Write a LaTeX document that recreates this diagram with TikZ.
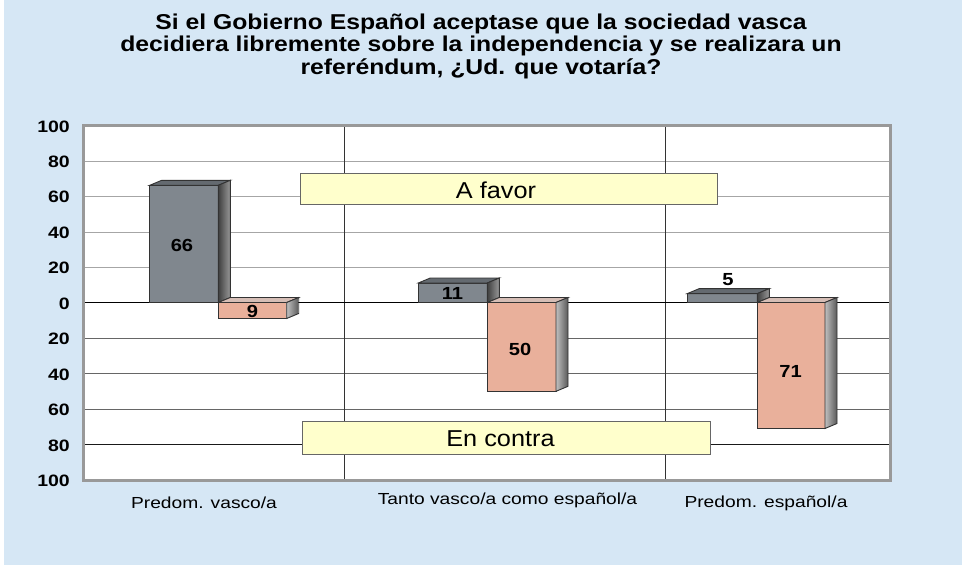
\documentclass[tikz,border=0pt]{standalone}
\usepackage{fontspec}
\setmainfont{Liberation Sans}
\definecolor{bgblue}{RGB}{214,231,245}
\definecolor{gfront}{RGB}{128,135,142}
\definecolor{gtop}{RGB}{100,106,112}
\definecolor{sfront}{RGB}{233,176,155}
\definecolor{stop}{RGB}{214,190,182}
\definecolor{boxyellow}{RGB}{255,255,204}
\definecolor{frame}{RGB}{153,153,153}
\newcommand\mybarthreed[8]{%
  % #1 x1, #2 x2, #3 ytop, #4 ybottom, #5 front, #6 top, #7 side left, #8 side right
  \filldraw[barline, fill=#5] (#1,#3) rectangle (#2,#4);
  \filldraw[barline, fill=#6] (#1,#3) -- ({#1+12},{#3-5}) -- ({#2+12},{#3-5}) -- (#2,#3) -- cycle;
  \shade[left color=#7, right color=#8] (#2,#3) -- ({#2+12},{#3-5}) -- ({#2+12},{#4-5}) -- (#2,#4) -- cycle;
  \draw[barline] (#2,#3) -- ({#2+12},{#3-5}) -- ({#2+12},{#4-5}) -- (#2,#4) -- cycle;
}
\tikzset{
  barline/.style={draw=black!80, line width=0.9pt},
  gridup/.style={draw=black!35, line width=1pt},
  griddown/.style={draw=black!60, line width=1pt},
  axlab/.style={font=\bfseries\fontsize{16.5}{18}\selectfont, xscale=1.18, anchor=east, inner sep=0pt},
  vallab/.style={font=\bfseries\fontsize{17.5}{18}\selectfont, xscale=1.15, inner sep=0pt},
  catlab/.style={font=\fontsize{16}{18}\selectfont, xscale=1.2, inner sep=0pt},
  legbox/.style={draw=black!60, line width=1pt, fill=boxyellow, inner sep=0pt},
  legtext/.style={font=\fontsize{23}{24}\selectfont, xscale=1.1, inner sep=0pt},
}
\begin{document}
\begin{tikzpicture}[x=1pt,y=-1pt]
\useasboundingbox (0,0) rectangle (962,565);
\fill[white] (0,0) rectangle (962,565);
\fill[bgblue] (4,0) rectangle (962,565);
% title
\node[font=\bfseries\fontsize{21.5}{22.5}\selectfont, align=center, xscale=1.15] (title) at (481,46)
  {Si el Gobierno Español aceptase que la sociedad vasca\\decidiera libremente sobre la independencia y se realizara un\\referéndum, ¿Ud. que votaría?};
% plot area
\fill[white] (83,125) rectangle (890,480);
\foreach \yy in {161,196.5,232,267.5} {\draw[gridup] (83,\yy) -- (890,\yy);}
\foreach \yy in {338,373.5,409} {\draw[griddown] (83,\yy) -- (890,\yy);}
\draw[draw=black!90, line width=1pt] (83,444.5) -- (890,444.5);
\draw[draw=black!80, line width=1pt] (344,125) -- (344,480);
\draw[draw=black!80, line width=1pt] (665,125) -- (665,480);
\draw[black, line width=1.2pt] (83,302.5) -- (890,302.5);
\draw[frame, line width=3pt] (83,125) rectangle (890,480);
% legend boxes
\node[legbox, minimum width=417pt, minimum height=31.5pt] (afavor) at (509.2,189.2) {};
\node[legtext] (afavortext) at (496,190) {A favor};
\node[legbox, minimum width=408pt, minimum height=32.5pt] (encontra) at (506.9,438) {};
\node[legtext] (encontratext) at (500.5,438.5) {En contra};
% bars
\mybarthreed{149.7}{218.3}{185.3}{302.5}{gfront}{gtop}{black!75}{black!40}
\mybarthreed{218.3}{286.7}{302.5}{318.5}{sfront}{stop}{black!25}{black!65}
\mybarthreed{418.3}{487.3}{283}{302.5}{gfront}{gtop}{black!75}{black!40}
\mybarthreed{487.3}{556}{302.5}{391.3}{sfront}{stop}{black!25}{black!65}
\mybarthreed{687.3}{757.3}{293.6}{302.5}{gfront}{gtop}{black!75}{black!40}
\mybarthreed{757.3}{825}{302.5}{428.5}{sfront}{stop}{black!25}{black!65}
% value labels
\node[vallab] (v66) at (182,245) {66};
\node[vallab] (v9) at (252.5,311.5) {9};
\node[vallab] (v11) at (452.5,293.5) {11};
\node[vallab] (v50) at (520,349) {50};
\node[vallab] (v5) at (728,280) {5};
\node[vallab] (v71) at (790.5,371) {71};
% axis labels
\node[axlab] (a100) at (70,127) {100};
\node[axlab] (a80) at (70,161.5) {80};
\node[axlab] (a60) at (70,197) {60};
\node[axlab] (a40) at (70,232.5) {40};
\node[axlab] (a20) at (70,268) {20};
\node[axlab] (a0) at (70,303.5) {0};
\node[axlab] (b20) at (70,339) {20};
\node[axlab] (b40) at (70,374.5) {40};
\node[axlab] (b60) at (70,410) {60};
\node[axlab] (b80) at (70,445.5) {80};
\node[axlab] (b100) at (70,481) {100};
% category labels
\node[catlab] (c1) at (204,502.5) {Predom. vasco/a};
\node[catlab] (c2) at (507.5,500) {Tanto vasco/a como español/a};
\node[catlab] (c3) at (766,503) {Predom. español/a};
\end{tikzpicture}
\end{document}
